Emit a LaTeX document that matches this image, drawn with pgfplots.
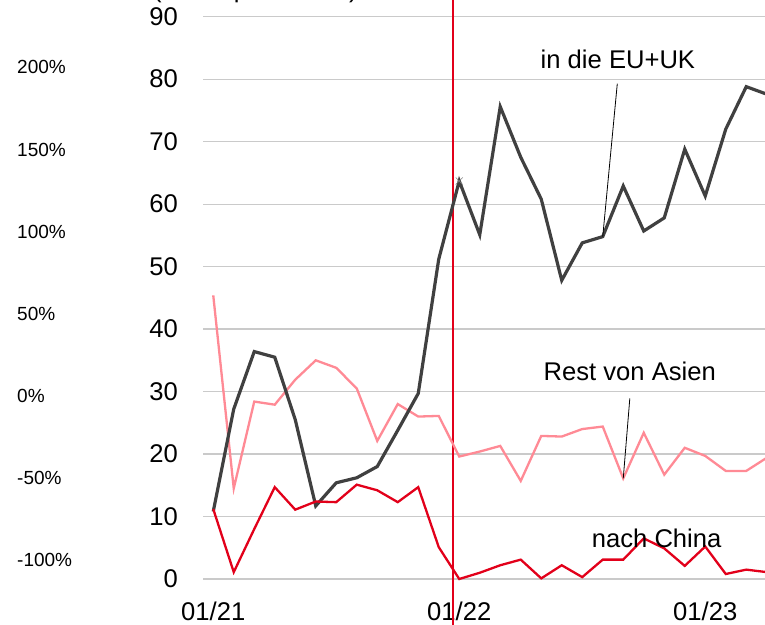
\documentclass[border=0pt]{standalone}
\usepackage{pgfplots}
\pgfplotsset{compat=1.18}
\usepackage{pgfplotstable}
\usepackage{fontspec}
\setmainfont{Liberation Sans}

\definecolor{eugray}{HTML}{404040}
\definecolor{asiapink}{HTML}{FF8A95}
\definecolor{chinared}{HTML}{E2001A}
\definecolor{gridgray}{HTML}{CACACA}

% monthly values, index 0 = 01/21
\pgfplotstableread{
idx eu   asia china
0   10.8 45.4 11.2
1   27.2 14.5 1.1
2   36.4 28.4 8.0
3   35.5 27.9 14.7
4   25.5 31.9 11.1
5   11.7 35.0 12.4
6   15.4 33.8 12.3
7   16.2 30.5 15.1
8   18.0 22.1 14.2
9   23.8 28.0 12.3
10  29.7 26.0 14.7
11  51.2 26.1 5.1
12  63.7 19.6 0.0
13  55.1 20.4 1.0
14  75.6 21.3 2.2
15  67.5 15.7 3.1
16  60.8 22.9 0.1
17  47.8 22.8 2.2
18  53.8 24.0 0.3
19  54.8 24.4 3.1
20  62.9 16.1 3.1
21  55.7 23.4 6.5
22  57.8 16.7 4.9
23  68.8 21.0 2.1
24  61.3 19.7 5.2
25  72.0 17.3 0.8
26  78.8 17.3 1.5
27  77.6 19.4 1.1
}\monthly

\newcommand{\bigfont}{\fontsize{25.6}{30}\selectfont}
\newcommand{\smallfont}{\fontsize{19}{22}\selectfont}

\begin{document}
\begin{tikzpicture}
\useasboundingbox (0,0) rectangle (765pt,624pt);
\clip (0,0) rectangle (765pt,624pt);

% cropped title above the plot
\node[anchor=base west, inner sep=0pt, font=\bigfont] at (153pt,626.4pt) {(Mio. t pro Monat)};

% left percentage scale (of a neighbouring chart)
\begin{axis}[
    at={(203pt,45pt)}, anchor=south west,
    scale only axis, width=562pt, height=562.3pt,
    xmin=0, xmax=1, ymin=-111.4, ymax=230.9,
    hide x axis,
    axis y line*=left,
    y axis line style={draw=none},
    major tick length=0pt,
    ytick={-100,-50,0,50,100,150,200},
    yticklabels={-100\%,-50\%,0\%,50\%,100\%,150\%,200\%},
    yticklabel style={anchor=west, inner sep=0pt, xshift=-186pt, font=\smallfont},
]
\end{axis}

\begin{axis}[
    at={(203pt,45pt)}, anchor=south west,
    scale only axis, width=562pt, height=562.3pt,
    xmin=-0.5, xmax=26.915, ymin=0, ymax=90,
    clip=false,
    axis line style={draw=none},
    major tick length=0pt,
    ymajorgrids,
    grid style={gridgray, line width=1.2pt},
    ytick={0,10,...,90},
    xtick={0,12,24},
    xticklabels={01/21,01/22,01/23},
    yticklabel style={inner sep=0pt, xshift=-25pt, font=\bigfont,
        /pgf/number format/assume math mode=true},
    xticklabel style={inner sep=0pt, anchor=north, yshift=-22.7pt, font=\bigfont},
]
\draw[chinared, line width=2pt] (axis cs:11.71,-8) -- (axis cs:11.71,96);

\addplot[asiapink, line width=2.3pt, no markers] table[x=idx, y=asia] {\monthly};
\addplot[eugray, line width=3.2pt, no markers] table[x=idx, y=eu] {\monthly};
\addplot[chinared, line width=2.3pt, no markers] table[x=idx, y=china] {\monthly};
\addplot[gray, only marks, mark=x, mark size=5pt, mark options={line width=0.6pt}] coordinates {(12,63.7)};

\draw[black, line width=0.8pt] (axis cs:19.71,79.3) -- (axis cs:19,54.8);
\draw[black, line width=0.8pt] (axis cs:20.32,28.9) -- (axis cs:20,16.1);

\node[font=\bigfont, inner sep=0pt] at (axis cs:19.74,83.1) {in die EU+UK};
\node[font=\bigfont, inner sep=0pt] at (axis cs:20.32,33.3) {Rest von Asien};
\node[font=\bigfont, inner sep=0pt] at (axis cs:21.63,6.46) {nach China};
\end{axis}
\end{tikzpicture}
\end{document}
